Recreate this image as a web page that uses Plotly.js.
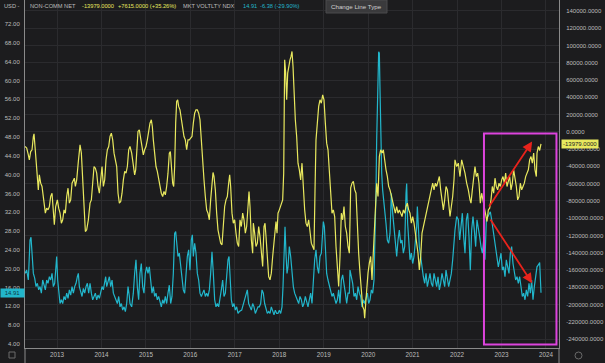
<!DOCTYPE html>
<html>
<head>
<meta charset="utf-8">
<script src="https://cdn.plot.ly/plotly-3.0.1.min.js"></script>
<style>
html,body{margin:0;padding:0;background:#1c1c1e;}
#chart{width:605px;height:363px;}
</style>
</head>
<body>
<div id="chart"></div>
<script>
// NON-COMM NET (right axis), decimal years
var netYears = [
2012.280,2012.318,2012.355,2012.378,2012.408,2012.438,2012.468,2012.483,2012.505,2012.528,2012.558,2012.580,2012.603,2012.633,2012.663,2012.693,2012.715,2012.738,2012.768,2012.798,2012.828,2012.858,2012.888,2012.918,2012.940,2012.970,
2013.008,2013.038,2013.068,2013.098,2013.128,2013.158,2013.188,2013.218,2013.248,2013.278,2013.308,2013.338,2013.368,2013.390,2013.413,2013.443,2013.480,2013.518,2013.548,2013.578,2013.608,2013.638,2013.668,2013.705,2013.743,2013.773,2013.803,2013.833,2013.863,2013.893,2013.923,2013.953,2013.983,
2014.013,2014.043,2014.073,2014.103,2014.133,2014.163,2014.193,2014.223,2014.253,2014.283,2014.313,2014.343,2014.373,2014.403,2014.433,2014.463,2014.493,2014.523,2014.553,2014.583,2014.613,2014.642,2014.680,2014.717,2014.747,2014.770,2014.792,2014.822,2014.852,2014.882,2014.912,2014.942,2014.972,
2015.002,2015.032,2015.062,2015.092,2015.122,2015.145,2015.167,2015.197,2015.227,2015.257,2015.287,2015.317,2015.347,2015.377,2015.407,2015.437,2015.467,2015.497,2015.527,2015.550,2015.572,2015.602,2015.625,2015.647,2015.670,2015.692,2015.715,2015.737,2015.767,2015.797,2015.827,2015.857,2015.887,2015.917,2015.947,2015.977,
2016.007,2016.037,2016.067,2016.097,2016.127,2016.157,2016.187,2016.217,2016.247,2016.277,2016.307,2016.337,2016.367,2016.397,2016.427,2016.457,2016.487,2016.510,2016.532,2016.562,2016.592,2016.622,2016.652,2016.682,2016.712,2016.742,2016.772,2016.802,2016.832,2016.862,2016.885,2016.907,2016.937,2016.967,2016.997,
2017.027,2017.057,2017.087,2017.117,2017.147,2017.177,2017.207,2017.237,2017.267,2017.297,2017.320,2017.342,2017.372,2017.402,2017.417,2017.447,2017.477,2017.507,2017.537,2017.567,2017.597,2017.627,2017.657,2017.680,2017.702,2017.732,2017.762,2017.792,2017.822,2017.852,2017.882,2017.912,2017.927,2017.950,2017.972,
2018.002,2018.032,2018.062,2018.077,2018.100,2018.122,2018.145,2018.167,2018.190,2018.212,2018.242,2018.265,2018.287,2018.310,2018.332,2018.362,2018.392,2018.422,2018.452,2018.482,2018.512,2018.542,2018.572,2018.602,2018.632,2018.662,2018.692,2018.722,2018.752,2018.782,2018.805,2018.827,2018.857,2018.887,2018.917,2018.947,2018.977,
2019.007,2019.037,2019.067,2019.097,2019.127,2019.157,2019.187,2019.217,2019.247,2019.277,2019.307,2019.337,2019.367,2019.397,2019.427,2019.457,2019.487,2019.517,2019.547,2019.577,2019.607,2019.637,2019.667,2019.697,2019.727,2019.757,2019.787,2019.817,2019.847,2019.877,2019.907,2019.922,2019.945,2019.967,2019.997,
2020.027,2020.057,2020.087,2020.117,2020.140,2020.162,2020.192,2020.222,2020.252,2020.282,2020.312,2020.342,2020.372,2020.402,2020.432,2020.462,2020.492,2020.522,2020.552,2020.582,2020.612,2020.642,2020.672,2020.702,2020.732,2020.762,2020.792,2020.822,2020.852,2020.882,2020.912,2020.942,2020.972,
2021.002,2021.032,2021.062,2021.092,2021.122,2021.152,2021.182,2021.212,2021.242,2021.272,2021.302,2021.332,2021.362,2021.392,2021.422,2021.452,2021.482,2021.512,2021.542,2021.572,2021.602,2021.632,2021.662,2021.692,2021.722,2021.752,2021.782,2021.812,2021.842,2021.872,2021.902,2021.932,2021.954,2021.992,
2022.029,2022.067,2022.104,2022.142,2022.179,2022.217,2022.254,2022.292,2022.314,2022.344,2022.374,2022.404,2022.434,2022.464,2022.494,2022.524,2022.554,2022.584,2022.614,2022.644,2022.674,2022.704,2022.734,2022.764,2022.794,2022.824,2022.854,2022.884,2022.914,2022.944,2022.974,
2023.004,2023.034,2023.064,2023.094,2023.124,2023.154,2023.184,2023.214,2023.244,2023.274,2023.304,2023.334,2023.364,2023.394,2023.424,2023.454,2023.484,2023.514,2023.544,2023.574,2023.604,2023.634,2023.664,2023.694,2023.724,2023.754,2023.784,2023.799,2023.829,2023.859,2023.889
];
var netValues = [
-17000,-18900,-26600,-32400,-22800,-20800,-5400,-2300,-17000,-32400,-55600,-67200,-49800,-59500,-63300,-74900,-86500,-94200,-88400,-90400,-86500,-74900,-71100,-101900,-107700,-86500,
-78800,-88400,-94200,-105800,-101900,-90400,-94200,-74900,-65300,-82600,-78800,-59500,-55600,-53700,-63300,-55600,-34400,-15100,-24700,-51700,-82600,-115500,-113500,-101900,-82600,-78800,-59500,-40200,-42100,-47900,-63300,-71100,-55600,
-40200,-63300,-55600,-32400,-20800,-17000,-5400,-1500,-9300,-24700,-34400,-40200,-71100,-82600,-80700,-71100,-55600,-45900,-47900,-40200,-20800,-17000,-24700,-40200,-49800,-44000,-20800,400,2300,-9300,-20800,-26600,-20800,
-17000,-9300,2300,10100,13900,6200,-9300,-28600,-40200,-45900,-55600,-63300,-71100,-74900,-69100,-73000,-63300,-47900,-24700,-22800,-40200,-59500,-63300,-40200,10100,35200,37100,29400,25500,13900,2300,-5400,-9300,-20800,-9300,-9300,
-7300,-5400,10100,21600,25500,25500,21600,13900,-9300,-40200,-55600,-74900,-90400,-94200,-101900,-78800,-55600,-47100,-51700,-67200,-94200,-113500,-121300,-129000,-130900,-109700,-86500,-78800,-74900,-59500,-49800,-63300,-94200,-105800,-101900,
-117400,-129000,-132800,-102000,-109700,-94200,-101900,-117400,-109700,-78800,-69100,-86500,-125100,-140600,-105800,-117400,-132800,-129000,-109700,-121300,-140600,-156000,-109700,-105800,-121300,-140600,-167600,-171500,-163700,-144400,-125100,-109700,-103900,-117400,-94200,
-90400,-86500,-82600,-78800,-47900,83400,68000,37100,68000,75700,83400,87300,93100,75700,37100,13900,-5400,-36300,-44000,-55600,-36300,-71100,-90400,-105800,-109700,-101900,-117400,-129000,-132800,-136700,-67200,-9300,10100,29400,37100,33200,42900,
37100,10100,-13100,-20800,-47900,-74900,-94200,-90400,-98100,-132800,-163700,-179200,-144400,-94200,-101900,-86500,-109700,-117400,-132800,-140600,-65000,-59500,-57500,-67000,-71100,-109700,-140600,-163700,-183100,-202400,-206200,-215900,-198500,-179200,-163700,
-152200,-144400,-171500,-140600,-117400,-78800,-59500,-74900,-28600,-20800,-24700,-20800,-36300,-44000,-51700,-63300,-67200,-74900,-78800,-90400,-94200,-86500,-94200,-90400,-94200,-98100,-90400,-94200,-86500,-82600,-90400,-94200,-105800,
-98100,-105800,-117400,-125100,-140600,-159900,-144400,-117400,-109700,-101900,-94200,-90400,-78800,-74900,-63300,-59500,-67200,-59500,-63300,-55600,-51700,-67200,-78800,-90400,-78800,-63300,-67200,-86500,-98100,-86500,-74900,-55600,-32400,-40200,
-36300,-51800,-32400,-40200,-47900,-59500,-67200,-78800,-82600,-67200,-51800,-40200,-51800,-47900,-59500,-82600,-71100,-78800,-86500,-98100,-103900,-90400,-88400,-78800,-63300,-71100,-53700,-63300,-67200,-59500,-63300,
-55600,-51800,-59500,-47900,-63300,-55600,-51800,-67200,-59500,-44000,-51800,-63300,-78800,-74900,-59500,-67200,-63300,-59500,-51800,-47900,-44000,-32400,-28600,-36300,-24700,-44000,-51800,-24700,-17000,-21594,-13979
];

// MKT VOLTLTY NDX (left axis), decimal years
var volYears = [
2012.280,2012.318,2012.355,2012.393,2012.415,2012.438,2012.468,2012.498,2012.528,2012.558,2012.588,2012.618,2012.648,2012.678,2012.708,2012.738,2012.768,2012.798,2012.828,2012.858,2012.888,2012.918,2012.948,2012.978,2012.993,
2013.015,2013.045,2013.068,2013.098,2013.128,2013.158,2013.188,2013.218,2013.248,2013.278,2013.308,2013.338,2013.368,2013.398,2013.428,2013.458,2013.480,2013.503,2013.533,2013.563,2013.593,2013.623,2013.653,2013.683,2013.713,2013.743,2013.773,2013.803,2013.833,2013.863,2013.893,2013.923,2013.953,2013.983,
2014.013,2014.043,2014.073,2014.095,2014.118,2014.148,2014.178,2014.208,2014.238,2014.268,2014.298,2014.328,2014.358,2014.388,2014.418,2014.448,2014.478,2014.508,2014.538,2014.568,2014.598,2014.628,2014.642,2014.680,2014.717,2014.747,2014.777,2014.807,2014.837,2014.867,2014.897,2014.927,2014.957,2014.987,
2015.017,2015.047,2015.077,2015.107,2015.137,2015.167,2015.197,2015.227,2015.257,2015.287,2015.317,2015.347,2015.377,2015.407,2015.437,2015.467,2015.497,2015.527,2015.557,2015.587,2015.617,2015.647,2015.670,2015.692,2015.722,2015.752,2015.782,2015.812,2015.842,2015.872,2015.902,2015.932,2015.962,2015.992,
2016.022,2016.045,2016.067,2016.097,2016.127,2016.157,2016.187,2016.217,2016.247,2016.277,2016.307,2016.337,2016.367,2016.397,2016.427,2016.457,2016.487,2016.517,2016.547,2016.577,2016.607,2016.637,2016.667,2016.697,2016.727,2016.757,2016.787,2016.817,2016.847,2016.870,2016.892,2016.922,2016.952,2016.982,
2017.012,2017.042,2017.072,2017.102,2017.155,2017.192,2017.222,2017.252,2017.282,2017.312,2017.342,2017.372,2017.402,2017.432,2017.462,2017.492,2017.522,2017.552,2017.582,2017.612,2017.642,2017.672,2017.702,2017.732,2017.762,2017.792,2017.822,2017.852,2017.882,2017.912,2017.942,2017.972,
2018.002,2018.032,2018.062,2018.085,2018.107,2018.130,2018.152,2018.175,2018.197,2018.227,2018.257,2018.287,2018.317,2018.347,2018.377,2018.407,2018.437,2018.467,2018.497,2018.527,2018.557,2018.587,2018.617,2018.647,2018.677,2018.707,2018.737,2018.767,2018.797,2018.827,2018.857,2018.887,2018.917,2018.947,2018.977,2018.992,
2019.015,2019.037,2019.067,2019.097,2019.127,2019.157,2019.187,2019.217,2019.247,2019.277,2019.307,2019.337,2019.367,2019.397,2019.427,2019.457,2019.487,2019.517,2019.547,2019.577,2019.592,2019.622,2019.652,2019.682,2019.712,2019.742,2019.772,2019.802,2019.832,2019.862,2019.892,2019.922,2019.952,2019.982,
2020.012,2020.042,2020.072,2020.102,2020.132,2020.155,2020.177,2020.192,2020.215,2020.237,2020.252,2020.267,2020.282,2020.305,2020.327,2020.350,2020.372,2020.402,2020.432,2020.462,2020.492,2020.522,2020.552,2020.582,2020.612,2020.642,2020.672,2020.702,2020.732,2020.762,2020.792,2020.822,2020.852,2020.867,2020.889,2020.912,2020.942,2020.972,
2021.002,2021.032,2021.062,2021.092,2021.107,2021.130,2021.152,2021.182,2021.212,2021.242,2021.272,2021.302,2021.332,2021.362,2021.392,2021.422,2021.452,2021.482,2021.512,2021.542,2021.572,2021.602,2021.632,2021.662,2021.692,2021.722,2021.752,2021.782,2021.812,2021.842,2021.872,2021.902,2021.932,2021.954,2021.992,
2022.029,2022.059,2022.089,2022.119,2022.149,2022.179,2022.209,2022.239,2022.269,2022.299,2022.329,2022.359,2022.389,2022.419,2022.449,2022.479,2022.509,2022.539,2022.569,2022.599,2022.629,2022.659,2022.689,2022.719,2022.749,2022.779,2022.809,2022.839,2022.869,2022.899,2022.929,2022.959,2022.989,
2023.019,2023.049,2023.079,2023.109,2023.139,2023.169,2023.199,2023.229,2023.259,2023.289,2023.319,2023.349,2023.379,2023.409,2023.439,2023.469,2023.499,2023.529,2023.559,2023.589,2023.619,2023.649,2023.679,2023.709,2023.739,2023.769,2023.799,2023.829,2023.859,2023.889
];
var volValues = [
19.0,19.7,17.6,26.1,26.7,22.6,19.0,18.0,16.2,16.9,15.5,16.2,14.8,17.6,16.5,15.5,17.6,16.9,18.3,17.6,19.0,16.2,16.9,20.4,22.6,
17.6,14.1,12.6,13.4,12.6,14.1,13.4,14.8,13.7,15.5,14.4,16.2,14.8,16.2,16.9,18.3,19.0,16.2,14.8,14.1,15.8,14.8,16.2,16.9,14.8,16.9,14.8,13.4,14.1,14.8,13.4,14.4,13.7,14.8,
16.2,15.5,16.9,18.3,16.2,17.6,18.3,16.2,17.6,14.8,14.1,13.4,12.6,14.1,11.9,12.6,11.2,11.9,10.9,12.6,16.2,14.1,12.6,11.9,14.8,19.0,21.9,16.2,13.4,19.0,21.1,16.2,14.8,19.0,
20.4,19.0,20.4,17.6,14.8,16.2,14.1,14.8,13.4,14.1,12.6,11.9,13.4,12.6,14.1,12.6,14.8,16.5,12.6,14.1,19.0,27.5,27.9,26.1,22.6,23.3,20.4,17.6,15.5,14.8,19.0,22.6,24.0,19.7,
26.1,27.2,22.6,25.4,23.3,19.0,17.6,14.8,14.1,14.8,15.5,14.1,14.8,14.1,15.5,19.0,23.6,19.0,13.4,11.9,12.6,11.9,13.4,15.5,17.6,14.1,14.8,19.0,21.9,22.6,17.6,13.4,11.9,12.6,
11.2,11.9,10.5,10.9,11.2,12.6,13.4,14.8,15.5,12.6,11.9,11.2,12.6,11.9,10.5,11.2,11.9,11.9,12.6,15.5,14.8,12.6,11.2,10.5,10.9,10.5,11.9,10.9,10.2,11.2,10.5,10.5,
11.2,10.5,11.9,16.2,24.7,28.9,23.3,19.0,20.4,24.7,22.6,19.0,16.2,14.8,14.1,13.4,12.6,14.1,13.4,11.9,12.6,14.1,12.6,11.9,13.4,14.8,12.6,19.0,21.9,24.0,20.4,19.0,22.6,23.3,27.5,30.0,
28.9,23.3,19.0,17.6,16.2,15.5,14.1,14.8,13.4,12.6,13.4,15.5,12.6,17.6,18.7,16.2,14.8,12.6,14.8,14.8,19.7,18.3,16.9,14.1,14.8,13.4,16.2,14.8,14.1,11.9,13.4,12.6,14.1,14.8,
12.6,13.4,15.5,14.8,17.6,26.1,36.7,47.4,55.9,66.1,65.8,58.0,45.9,40.3,36.7,34.6,33.2,29.6,26.1,25.4,27.5,36.0,31.8,28.9,24.7,22.6,26.1,28.2,25.4,26.1,23.3,24.7,36.0,38.1,29.6,24.7,21.9,23.3,
21.1,22.6,26.1,28.9,33.2,28.9,24.7,22.6,19.7,18.3,16.9,19.0,16.2,17.6,19.0,16.9,16.2,19.0,17.6,16.2,18.3,15.5,16.9,19.0,17.6,16.2,19.7,18.3,16.2,17.6,19.0,21.9,26.1,28.2,31.1,
30.4,26.1,29.6,31.8,26.8,23.3,30.4,31.8,26.8,19.7,28.2,31.1,28.2,24.7,30.4,28.9,26.8,24.7,23.3,26.1,21.9,30.4,31.1,31.8,32.1,30.4,28.2,26.8,24.7,21.9,20.4,21.9,23.3,
19.7,20.4,18.3,21.9,20.4,19.0,23.3,24.7,21.1,19.7,17.6,18.3,16.9,18.3,16.2,14.1,14.8,13.4,15.5,14.1,16.9,14.8,17.6,13.4,16.2,18.3,20.4,20.8,21.29,14.91
];

var yearTicks = [2013,2014,2015,2016,2017,2018,2019,2020,2021,2022,2023,2024];
var leftTicks = [4,8,12,16,20,24,28,32,36,40,44,48,52,56,60,64,68,72];
var rightTicks = [-240000,-220000,-200000,-180000,-160000,-140000,-120000,-100000,-80000,-60000,-40000,-20000,0,20000,40000,60000,80000,100000,120000,140000];

var YEL = '#e8e85e', CYA = '#22b6cb', BG = '#1c1c1e', GRID = '#2b2b2e', TXT = '#bcbcbc', AXL = '#8a8a8a';
var FONT = 'Liberation Sans, Arial, sans-serif';

function px(x){ return (x - 25) / 534; }
function py(y){ return 1 - y / 348; }

var traces = [
  {x: netYears, y: netValues, yaxis: 'y2', type: 'scatter', mode: 'lines',
   line: {color: YEL, width: 1.2}, hoverinfo: 'skip'},
  {x: volYears, y: volValues, yaxis: 'y', type: 'scatter', mode: 'lines',
   line: {color: CYA, width: 1.2}, hoverinfo: 'skip'}
];

var hdr = function(text, x, color){
  return {xref: 'paper', yref: 'paper', x: px(x), y: py(6.5), xanchor: 'left', yanchor: 'middle',
          text: text, showarrow: false, borderpad: 0, font: {family: FONT, size: 5.7, color: color}};
};

var layout = {
  width: 605, height: 363,
  margin: {l: 25, r: 46, t: 0, b: 15, pad: 0},
  paper_bgcolor: BG, plot_bgcolor: BG,
  showlegend: false,
  font: {family: FONT, size: 6.2, color: TXT},
  xaxis: {range: [2012.28, 2024.294], tickvals: yearTicks, ticktext: yearTicks.map(String),
    showgrid: true, gridcolor: GRID, gridwidth: 1, zeroline: false,
    showline: true, linecolor: AXL, linewidth: 1, ticks: '',
    tickfont: {family: FONT, size: 6.3, color: TXT}, fixedrange: true},
  yaxis: {range: [3.15, 77.1], tickvals: leftTicks, ticktext: leftTicks.map(function(v){return v.toFixed(2);}),
    showgrid: false, zeroline: false, showline: true, linecolor: AXL, linewidth: 1, ticks: '',
    ticklabelstandoff: 3,
    tickfont: {family: FONT, size: 6.0, color: TXT}, fixedrange: true},
  yaxis2: {range: [-250400, 152700], overlaying: 'y', side: 'right',
    tickvals: rightTicks, ticktext: rightTicks.map(function(v){return v.toFixed(4);}),
    showgrid: true, gridcolor: GRID, gridwidth: 1, zeroline: false,
    showline: true, linecolor: AXL, linewidth: 1, ticks: '', ticklabelstandoff: 5,
    tickfont: {family: FONT, size: 6.0, color: TXT}, fixedrange: true},
  shapes: [
    {type: 'rect', xref: 'x', yref: 'paper', x0: 2022.606, x1: 2024.237, y0: py(344.5), y1: py(133.5),
     line: {color: '#dd44dd', width: 2}, fillcolor: 'rgba(0,0,0,0)'},
    {type: 'line', xref: 'paper', yref: 'paper', x0: 0, x1: 0, y0: py(363), y1: 0, line: {color: AXL, width: 1}},
    {type: 'line', xref: 'paper', yref: 'paper', x0: 1, x1: 1, y0: py(363), y1: 0, line: {color: AXL, width: 1}},
    {type: 'rect', xref: 'paper', yref: 'paper', x0: px(326), x1: px(387), y0: py(13), y1: py(0),
     fillcolor: '#3a3a3c', line: {color: '#4a4a4c', width: 1}},
    {type: 'rect', xref: 'paper', yref: 'paper', x0: px(9), x1: px(15), y0: py(358), y1: py(352),
     fillcolor: 'rgba(0,0,0,0)', line: {color: '#6a6a6a', width: 1}},
    {type: 'circle', xref: 'paper', yref: 'paper', x0: px(575), x1: px(582), y0: py(359), y1: py(352),
     fillcolor: 'rgba(0,0,0,0)', line: {color: '#6a6a6a', width: 1}}
  ],
  annotations: [
    hdr('USD -', 3, TXT),
    hdr('NON-COMM NET', 29, TXT),
    hdr('-13979.0000', 81, YEL),
    hdr('+7615.0000 (+35.26%)', 117, YEL),
    hdr('MKT VOLTLTY NDX', 182, TXT),
    hdr('14.91', 242, CYA),
    hdr('-6.38 (-29.90%)', 259, CYA),
    {xref: 'paper', yref: 'paper', x: px(356.5), y: py(6.5), xanchor: 'center', yanchor: 'middle',
     text: 'Change Line Type', showarrow: false, font: {family: FONT, size: 6.2, color: '#d0d0d0'}},
    {xref: 'paper', yref: 'y', x: px(0), y: 14.91, xanchor: 'left', yanchor: 'middle',
     text: '14.91', showarrow: false, bgcolor: CYA, borderpad: 1, width: 21,
     font: {family: FONT, size: 6.0, color: '#0d3a46'}},
    {xref: 'paper', yref: 'y2', x: px(561), y: -13979, xanchor: 'left', yanchor: 'middle',
     text: '-13979.0000', showarrow: false, bgcolor: YEL, borderpad: 1,
     font: {family: FONT, size: 6.0, color: '#222'}},
    {xref: 'x', yref: 'y2', x: 2023.69, y: -11200, axref: 'x', ayref: 'y2', ax: 2022.70, ay: -88100,
     text: '', showarrow: true, arrowhead: 2, arrowsize: 1.1, arrowwidth: 1.8, arrowcolor: '#e8231c', standoff: 0, startstandoff: 0},
    {xref: 'x', yref: 'y2', x: 2023.69, y: -175300, axref: 'x', ayref: 'y2', ax: 2022.73, ay: -99700,
     text: '', showarrow: true, arrowhead: 2, arrowsize: 1.1, arrowwidth: 1.8, arrowcolor: '#e8231c', standoff: 0, startstandoff: 0}
  ]
};

Plotly.newPlot('chart', traces, layout, {displayModeBar: false, staticPlot: true});
</script>
</body>
</html>
